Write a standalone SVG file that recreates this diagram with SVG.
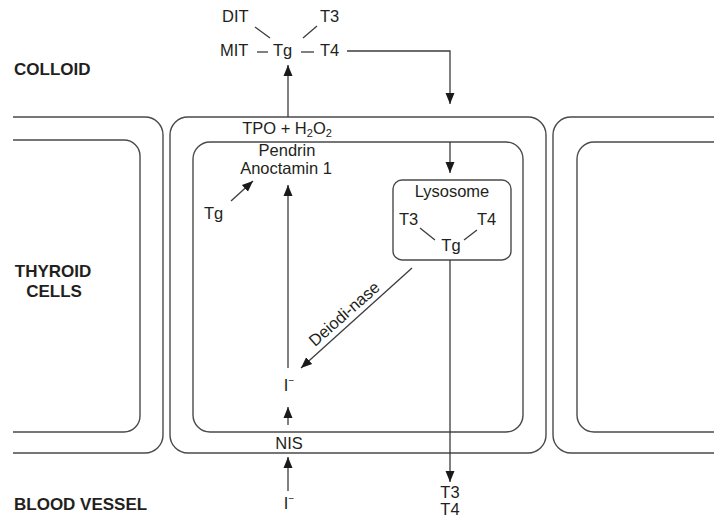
<svg xmlns="http://www.w3.org/2000/svg" width="714" height="517" viewBox="0 0 714 517">
<style>
text{font-family:"Liberation Sans",Arial,sans-serif;font-size:16.5px;fill:#231f20}
.lbl{font-weight:bold;font-size:17px}
.mid{text-anchor:middle}
.cell{fill:none;stroke:#4a4a4a;stroke-width:1.4}
.ln{fill:none;stroke:#3c3c3c;stroke-width:1.3}
.ar{fill:none;stroke:#3c3c3c;stroke-width:1.3;marker-end:url(#ah)}
</style>
<defs>
<marker id="ah" markerUnits="userSpaceOnUse" markerWidth="12" markerHeight="12" viewBox="0 0 12 12" refX="11" refY="6" orient="auto">
<path d="M0,1.5 L11,6 L0,10.5 Z" fill="#1a1a1a"/>
</marker>
</defs>
<rect width="714" height="517" fill="#fff"/>
<g id="labels">
<text class="lbl" x="14" y="75">COLLOID</text>
<text class="lbl mid" x="53" y="277">THYROID</text>
<text class="lbl mid" x="54" y="297">CELLS</text>
<text class="lbl" x="14" y="510">BLOOD VESSEL</text>
</g>
<g id="cell-left">
<path class="cell" d="M13,117 H145 A18,18 0 0 1 163,135 V435 A18,18 0 0 1 145,453 H13"/>
<path class="cell" d="M13,140 H124 A16,16 0 0 1 140,156 V416 A16,16 0 0 1 124,432 H13"/>
</g>
<g id="cell-middle">
<rect class="cell" x="170" y="117" width="376" height="336" rx="18"/>
<rect class="cell" x="193" y="142" width="330" height="290" rx="17"/>
</g>
<g id="cell-right">
<path class="cell" d="M714,117 H571 A18,18 0 0 0 553,135 V435 A18,18 0 0 0 571,453 H714"/>
<path class="cell" d="M714,142 H594 A17,17 0 0 0 577,159 V415 A17,17 0 0 0 594,432 H714"/>
</g>
<g id="colloid-tg">
<text x="222" y="22">DIT</text>
<text x="320" y="22">T3</text>
<text x="220" y="56">MIT</text>
<text x="273" y="56">Tg</text>
<text x="320" y="56">T4</text>
</g>
<g id="cell-texts">
<text class="mid" x="287" y="134">TPO + H<tspan font-size="11" dy="3">2</tspan><tspan dy="-3">O</tspan><tspan font-size="11" dy="3">2</tspan></text>
<text class="mid" x="287" y="156">Pendrin</text>
<text class="mid" x="286" y="174">Anoctamin 1</text>
<text x="204" y="219">Tg</text>
<text class="mid" x="289" y="391">I<tspan font-size="10" dy="-7">−</tspan></text>
<text class="mid" x="289" y="449">NIS</text>
<text class="mid" x="289" y="509">I<tspan font-size="10" dy="-7">−</tspan></text>
<text class="mid" x="450" y="498">T3</text>
<text class="mid" x="450" y="515">T4</text>
<text class="mid" x="348" y="318" transform="rotate(-41.5 348 318)">Deiodi-nase</text>
</g>
<g id="lysosome">
<rect class="cell" x="393" y="180" width="118" height="80" rx="9"/>
<text class="mid" x="452" y="197">Lysosome</text>
<text x="399" y="225">T3</text>
<text x="477" y="225">T4</text>
<text class="mid" x="451" y="251">Tg</text>
</g>
<g id="connectors">
<line class="ln" x1="255" y1="27" x2="270" y2="38"/>
<line class="ln" x1="317" y1="26" x2="303" y2="38"/>
<line class="ln" x1="257" y1="52" x2="268" y2="52"/>
<line class="ln" x1="301" y1="52" x2="314" y2="52"/>
<line class="ln" x1="420" y1="228" x2="435" y2="240"/>
<line class="ln" x1="477" y1="230" x2="464" y2="240"/>
<path class="ar" d="M347,51 H450 V104"/>
<path class="ar" d="M288,117 V65"/>
<path class="ar" d="M450,142 V173"/>
<path class="ar" d="M231,201 L253,181"/>
<path class="ar" d="M288,368 V185"/>
<path class="ar" d="M412,268 L301,368"/>
<path class="ar" d="M288,425 V407"/>
<path class="ar" d="M288,491 V457"/>
<path class="ar" d="M450,260 V482"/>
</g>
</svg>
